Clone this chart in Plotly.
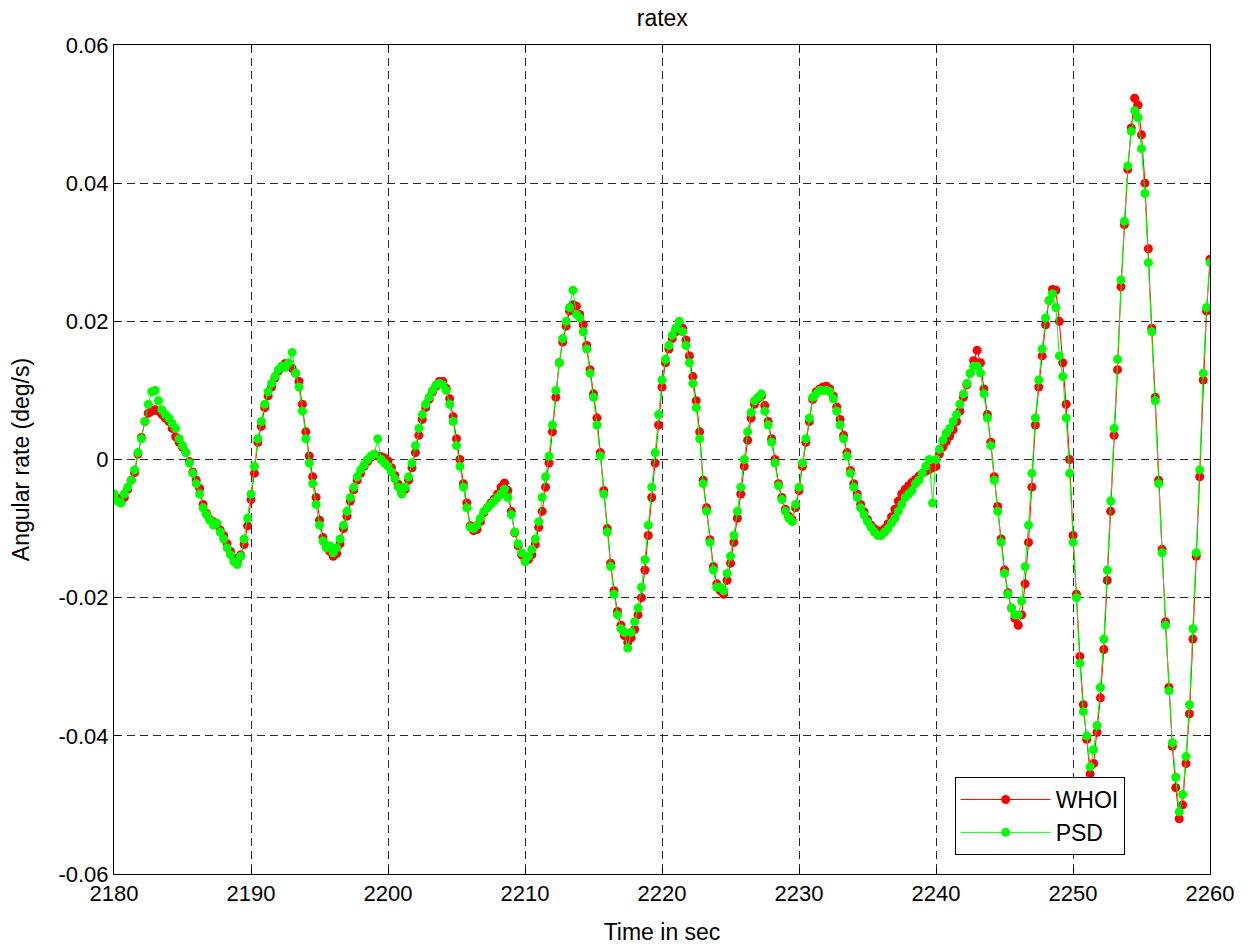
import plotly.graph_objects as go

# Time base: 2180 s to 2260 s, one reading every 0.25 s
t_start = 2180.0
t_step = 0.25
n_pts = 321
time_s = [t_start + t_step * i for i in range(n_pts)]

# WHOI angular rate, in units of 1e-3 deg/s (one row per second)
whoi_mdeg = [
    -5.3, -5.6, -5.8, -5.5,
    -4.3, -3.0, -1.9, 0.8,
    3.2, 5.5, 6.7, 7.0,
    7.2, 7.0, 6.5, 6.0,
    5.5, 4.5, 3.3, 2.5,
    1.8, 1.0, -0.3, -1.8,
    -3.0, -4.2, -6.5, -7.8,
    -8.7, -9.0, -9.3, -10.2,
    -11.0, -12.2, -13.3, -14.3,
    -14.8, -13.8, -12.3, -9.6,
    -5.8, -2.0, 2.5, 4.8,
    7.5, 9.2, 10.5, 11.8,
    12.8, 13.5, 13.9, 13.8,
    13.2, 12.5, 11.3, 8.0,
    4.0, 0.5, -2.5, -5.5,
    -8.8, -11.3, -12.5, -13.3,
    -14.0, -13.6, -12.2, -10.0,
    -8.2, -6.0, -4.4, -3.0,
    -2.0, -1.0, -0.3, 0.3,
    0.6, 0.5, 0.4, 0.2,
    -0.2, -1.2, -2.3, -3.6,
    -4.8, -4.3, -3.0, -1.2,
    1.0, 3.5, 5.8, 7.5,
    8.7, 9.8, 10.6, 11.3,
    11.3, 10.3, 8.8, 6.2,
    3.0, 0.0, -3.5, -6.3,
    -9.6, -10.3, -10.1, -9.0,
    -7.7, -7.0, -6.3, -5.7,
    -5.0, -4.0, -3.4, -4.5,
    -7.5, -10.6, -12.5, -13.8,
    -14.5, -14.5, -13.8, -12.3,
    -9.8, -7.5, -4.0, -0.5,
    4.0, 9.0, 14.0, 17.0,
    19.3, 21.5, 22.4, 22.2,
    21.0, 19.5, 16.5, 13.0,
    9.5, 6.0, 1.0, -4.5,
    -10.0, -15.0, -19.0, -22.0,
    -24.0, -25.5, -26.5, -25.8,
    -24.6, -22.5, -20.0, -16.0,
    -11.0, -5.5, -0.5, 5.0,
    10.5, 14.0, 16.0, 17.5,
    18.5, 19.5, 19.0, 17.3,
    15.0, 12.0, 8.5, 4.0,
    -3.0, -7.0, -11.6, -15.5,
    -18.0, -19.0, -19.5, -17.5,
    -15.0, -12.0, -8.5, -5.0,
    -1.0, 2.8, 6.0, 8.0,
    8.8, 9.2, 7.8, 5.5,
    3.0, 0.0, -3.5, -5.5,
    -7.2, -8.2, -8.7, -7.0,
    -4.5, -1.0, 2.5, 5.5,
    8.7, 9.8, 10.2, 10.5,
    10.6, 10.2, 9.2, 7.6,
    5.8, 3.5, 1.0, -1.6,
    -3.5, -5.0, -6.5, -7.6,
    -8.7, -9.5, -10.0, -10.3,
    -10.4, -10.0, -9.3, -8.3,
    -7.2, -6.0, -5.0, -4.3,
    -3.8, -3.3, -2.9, -2.4,
    -2.0, -1.7, -1.5, -1.2,
    -1.0, 0.8, 1.8, 2.6,
    3.4, 4.3, 5.5, 7.0,
    9.0, 10.8, 12.5, 14.3,
    15.8, 14.0, 10.2, 6.5,
    2.5, -2.5, -6.8, -11.5,
    -16.0, -19.3, -21.5, -23.0,
    -24.0, -22.5, -18.0, -12.0,
    -4.0, 5.0, 10.5, 15.0,
    19.5, 23.0, 24.6, 24.5,
    20.0, 14.0, 8.0, 0.0,
    -11.0, -19.5, -28.5, -35.5,
    -40.5, -45.5, -44.0, -39.5,
    -34.5, -27.5, -17.5, -7.5,
    3.5, 13.0, 25.0, 34.0,
    42.0, 48.0, 52.3, 51.3,
    47.0, 40.0, 30.5, 19.0,
    9.0, -3.0, -13.0, -23.5,
    -33.0, -41.5, -47.5, -52.0,
    -50.0, -44.0, -36.8, -26.0,
    -14.0, -2.5, 11.5, 21.5,
    29.0,
]

# PSD angular rate, in units of 1e-3 deg/s (one row per second)
psd_mdeg = [
    -5.0, -6.0, -6.3, -5.0,
    -4.0, -3.0, -1.5, 1.0,
    3.0, 5.5, 8.0, 9.8,
    10.0, 8.5, 7.2, 6.5,
    6.0, 5.2, 4.5, 3.0,
    2.0, 1.0, -0.5, -2.0,
    -3.5, -5.0, -7.0, -8.0,
    -8.8, -9.5, -9.2, -10.5,
    -11.5, -12.8, -13.8, -14.8,
    -15.2, -14.0, -11.5, -8.5,
    -5.0, -1.0, 3.0, 5.5,
    8.0, 9.8, 11.0, 12.0,
    13.0, 13.5, 13.3, 14.0,
    15.5, 12.5, 10.5, 7.0,
    3.0, -0.5, -3.5, -6.5,
    -9.5, -11.8, -12.8, -12.5,
    -13.5, -12.8, -11.5, -9.5,
    -7.5, -5.5, -4.0, -2.5,
    -1.5, -0.8, 0.0, 0.5,
    0.8, 3.0, 0.0, -0.5,
    -1.0, -1.8, -2.8, -4.0,
    -5.0, -4.0, -2.5, -0.5,
    2.0, 4.5, 6.5, 8.0,
    9.0, 10.0, 10.8, 11.0,
    10.8, 10.0, 8.0, 5.5,
    2.0, -1.0, -4.0, -7.0,
    -9.8, -10.0, -9.5, -8.5,
    -7.5, -7.0, -6.5, -6.0,
    -5.5, -5.0, -4.3, -5.5,
    -8.0, -10.5, -12.2, -13.5,
    -14.8, -14.0, -13.0, -11.5,
    -9.0, -5.5, -2.5, 0.5,
    5.0, 10.0, 14.0, 17.5,
    20.0, 22.0, 24.5, 21.0,
    20.5, 18.5, 16.0, 12.5,
    9.0, 5.0, 0.5, -5.0,
    -10.5, -15.5, -19.5, -22.5,
    -24.5, -25.0, -27.3, -25.0,
    -23.5, -21.5, -18.5, -14.5,
    -9.5, -4.0, 1.0, 6.5,
    11.5, 14.5, 16.5, 18.0,
    19.0, 20.0, 18.5, 16.5,
    14.0, 11.0, 7.5, 3.0,
    -3.5, -7.5, -12.0, -16.0,
    -18.5, -18.5, -19.0, -16.5,
    -14.0, -11.0, -7.5, -4.0,
    0.0, 4.0, 6.8, 8.5,
    9.0, 9.5, 7.0, 5.0,
    2.5, -0.5, -3.8, -5.8,
    -7.5, -8.5, -9.0, -6.5,
    -4.0, -0.5, 3.0, 6.0,
    9.0, 9.5, 10.0, 10.0,
    10.0, 9.8, 8.8, 7.0,
    5.0, 3.0, 0.5, -2.0,
    -4.0, -5.5, -7.0, -8.0,
    -9.0, -9.8, -10.5, -11.0,
    -11.0, -10.5, -10.0, -9.2,
    -8.5, -7.5, -6.5, -5.5,
    -5.0, -4.5, -3.5, -3.0,
    -2.0, -1.0, 0.0, -6.3,
    0.0, 1.5, 2.8, 3.8,
    4.5, 5.5, 6.5, 8.0,
    9.5, 11.0, 12.5, 13.5,
    13.5, 12.5, 9.5, 6.0,
    2.0, -3.0, -7.5, -12.0,
    -16.5, -19.5, -21.5, -22.5,
    -22.5, -20.5, -15.5, -9.5,
    -2.0, 6.0, 11.5, 16.0,
    20.5, 23.0, 24.0, 22.0,
    15.0, 12.0, 6.0, -2.0,
    -12.0, -20.0, -29.5, -36.5,
    -40.0, -44.5, -42.0, -38.5,
    -33.0, -26.0, -16.0, -6.0,
    4.5, 14.5, 26.0, 34.5,
    42.5, 47.5, 50.5, 49.5,
    45.0, 38.5, 28.5, 18.5,
    8.5, -3.5, -13.5, -24.0,
    -33.5, -41.0, -46.0, -51.0,
    -48.5, -43.0, -35.5, -24.5,
    -13.5, -1.5, 12.5, 22.0,
    28.5,
]

x_ticks = [2180, 2190, 2200, 2210, 2220, 2230, 2240, 2250, 2260]
y_ticks = [-0.06, -0.04, -0.02, 0.0, 0.02, 0.04, 0.06]
y_tick_labels = ["-0.06", "-0.04", "-0.02", "0", "0.02", "0.04", "0.06"]

whoi = [v / 1000.0 for v in whoi_mdeg]
psd = [v / 1000.0 for v in psd_mdeg]

FONT = "Liberation Sans, Arial, Helvetica, sans-serif"

fig = go.Figure()
fig.add_trace(go.Scatter(
    x=time_s, y=whoi, name="WHOI", mode="lines+markers",
    line=dict(color="#FF0000", width=1),
    marker=dict(color="#FF0000", size=9, line=dict(width=0)),
))
fig.add_trace(go.Scatter(
    x=time_s, y=psd, name="PSD", mode="lines+markers",
    line=dict(color="#00FF00", width=1),
    marker=dict(color="#00FF00", size=9, line=dict(width=0)),
))

axis_common = dict(
    showline=True, linecolor="black", linewidth=1, mirror="ticks",
    ticks="inside", ticklen=6, tickcolor="black",
    showgrid=True, gridcolor="#2a2a2a", gridwidth=1, griddash="8px,5px",
    zeroline=False, automargin=False,
    tickfont=dict(family=FONT, size=22, color="black"),
)

fig.update_layout(
    width=1252, height=947,
    margin=dict(l=114, r=42, t=45, b=73),
    paper_bgcolor="white", plot_bgcolor="white",
    font=dict(family=FONT, size=22, color="black"),
    title=dict(text="ratex", x=0.529, xref="container", xanchor="center",
               y=1 - 18 / 947, yref="container", yanchor="middle",
               font=dict(family=FONT, size=23, color="black")),
    xaxis=dict(range=[2180, 2260], tickvals=x_ticks,
               title=dict(text="Time in sec", standoff=18,
                          font=dict(family=FONT, size=23, color="black")),
               **axis_common),
    yaxis=dict(range=[-0.06, 0.06], tickvals=y_ticks, ticktext=y_tick_labels,
               title=dict(text="Angular rate (deg/s)", standoff=22,
                          font=dict(family=FONT, size=23, color="black")),
               **axis_common),
    legend=dict(x=0.767, y=0.117, xanchor="left", yanchor="top",
                bgcolor="white", bordercolor="black", borderwidth=1,
                font=dict(family=FONT, size=23, color="black"),
                itemwidth=90),
    showlegend=True,
)

fig.write_html("out.html", config={"displayModeBar": False},
               post_script="document.body.style.margin='0';")
